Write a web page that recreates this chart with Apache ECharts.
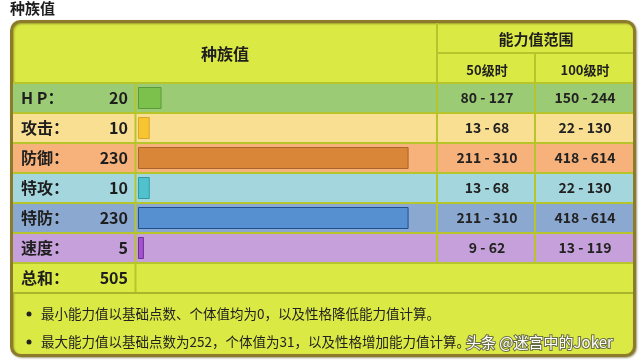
<!DOCTYPE html>
<html>
<head>
<meta charset="utf-8">
<script src="https://cdn.jsdelivr.net/npm/echarts@6/dist/echarts.min.js"></script>
<style>
  html, body { margin: 0; padding: 0; background: #fff; }
  #chart { width: 640px; height: 364px; }
</style>
</head>
<body>
<div id="chart"></div>
<script>
// data
const statNames = ['H P：', '攻击：', '防御：', '特攻：', '特防：', '速度：', '总和：'];
const baseStats = [20, 10, 230, 10, 230, 5];
const statTotal = 505;
const range50 = ['80 - 127', '13 - 68', '211 - 310', '13 - 68', '211 - 310', '9 - 62'];
const range100 = ['150 - 244', '22 - 130', '418 - 614', '22 - 130', '418 - 614', '13 - 119'];
const statMax = 255;
const pageTitle = '种族值';
const headMain = '种族值';
const headRange = '能力值范围';
const headLv50 = '50级时';
const headLv100 = '100级时';
const notes = [
  '最小能力值以基础点数、个体值均为0，以及性格降低能力值计算。',
  '最大能力值以基础点数为252，个体值为31，以及性格增加能力值计算。'
];
const watermark = '头条 @迷宫中的Joker';

// styles
const rowColors = ['#9bcb74', '#f9df92', '#f6b27a', '#a4d7dd', '#8ba8d0', '#c6a0da', '#dbe944'];
const barColors = ['#7cc14c', '#f7c531', '#da8638', '#50c1cd', '#5690d1', '#a452d2'];
const barBorders = ['#5b9a3a', '#d9a62b', '#a9652b', '#2e9aa6', '#1f4e8e', '#6b2f91'];
const FONT = '"Noto Sans CJK SC", "Noto Sans", sans-serif';
const lineColor = '#b7c52c';

const chart = echarts.init(document.getElementById('chart'));

function renderRow(params, api) {
  const i = api.value(1);
  const c = api.coord([0, i]);
  const h = api.size([0, 1])[1];
  const top = c[1] - h / 2;
  const kids = [
    { type: 'rect', shape: { x: 13, y: top, width: 620, height: h }, style: { fill: rowColors[i] } },
    { type: 'line', shape: { x1: 13, y1: top, x2: 633, y2: top }, style: { stroke: lineColor, lineWidth: 2 } },
    { type: 'line', shape: { x1: 135.5, y1: top, x2: 135.5, y2: top + h }, style: { stroke: lineColor, lineWidth: 2 } },
    { type: 'text', style: { text: statNames[i], x: 21, y: c[1], verticalAlign: 'middle', font: 'bold 16px ' + FONT, fill: '#1e1e1e' } },
    { type: 'text', style: { text: String(i < baseStats.length ? baseStats[i] : statTotal), x: 128, y: c[1], align: 'right', verticalAlign: 'middle', font: 'bold 16px ' + FONT, fill: '#1e1e1e' } }
  ];
  if (i < range50.length) {
    kids.push({ type: 'line', shape: { x1: 437, y1: top, x2: 437, y2: top + h }, style: { stroke: lineColor, lineWidth: 2 } });
    kids.push({ type: 'line', shape: { x1: 535, y1: top, x2: 535, y2: top + h }, style: { stroke: lineColor, lineWidth: 2 } });
    kids.push({ type: 'text', style: { text: range50[i], x: 487, y: c[1], align: 'center', verticalAlign: 'middle', font: 'bold 14px ' + FONT, fill: '#222' } });
    kids.push({ type: 'text', style: { text: range100[i], x: 585, y: c[1], align: 'center', verticalAlign: 'middle', font: 'bold 14px ' + FONT, fill: '#222' } });
  } else {
    kids.push({ type: 'line', shape: { x1: 13, y1: top + h, x2: 633, y2: top + h }, style: { stroke: '#a9b62a', lineWidth: 2 } });
  }
  return { type: 'group', children: kids };
}

const option = {
  animation: false,
  grid: { left: 138, width: 300, top: 83, height: 210 },
  xAxis: { type: 'value', min: 0, max: statMax, show: false },
  yAxis: { type: 'category', data: statNames, inverse: true, show: false },
  graphic: [
    { type: 'text', z: 0, style: { text: pageTitle, x: 10, y: 8, verticalAlign: 'middle', font: 'bold 15px ' + FONT, fill: '#1e1e1e' } },
    { type: 'rect', z: 0, shape: { x: 11.5, y: 21.5, width: 623, height: 334, r: 9 }, style: { fill: '#dbe944', stroke: '#8b7b2b', lineWidth: 3, shadowColor: 'rgba(90,80,20,0.5)', shadowBlur: 2, shadowOffsetX: 1, shadowOffsetY: 1 } },
    { type: 'text', z: 0, style: { text: headMain, x: 225, y: 54, align: 'center', verticalAlign: 'middle', font: 'bold 16px ' + FONT, fill: '#1e1e1e' } },
    { type: 'text', z: 0, style: { text: headRange, x: 536, y: 39, align: 'center', verticalAlign: 'middle', font: 'bold 15px ' + FONT, fill: '#1e1e1e' } },
    { type: 'text', z: 0, style: { text: headLv50, x: 487, y: 70, align: 'center', verticalAlign: 'middle', font: 'bold 13px ' + FONT, fill: '#1e1e1e' } },
    { type: 'text', z: 0, style: { text: headLv100, x: 585, y: 70, align: 'center', verticalAlign: 'middle', font: 'bold 13px ' + FONT, fill: '#1e1e1e' } },
    { type: 'line', z: 0, shape: { x1: 437, y1: 53, x2: 633, y2: 53 }, style: { stroke: lineColor, lineWidth: 2 } },
    { type: 'line', z: 0, shape: { x1: 437, y1: 23, x2: 437, y2: 83 }, style: { stroke: lineColor, lineWidth: 2 } },
    { type: 'line', z: 0, shape: { x1: 535, y1: 53, x2: 535, y2: 83 }, style: { stroke: lineColor, lineWidth: 2 } },
    { type: 'circle', z: 20, shape: { cx: 29, cy: 314, r: 2.5 }, style: { fill: '#222' } },
    { type: 'circle', z: 20, shape: { cx: 29, cy: 342, r: 2.5 }, style: { fill: '#222' } },
    { type: 'text', z: 20, style: { text: notes[0], x: 41, y: 314, verticalAlign: 'middle', font: '13.5px ' + FONT, fill: '#222' } },
    { type: 'text', z: 20, style: { text: notes[1], x: 41, y: 342, verticalAlign: 'middle', font: '13.5px ' + FONT, fill: '#222' } },
    { type: 'text', z: 30, style: { text: watermark, x: 466, y: 342, verticalAlign: 'middle', font: '15px ' + FONT, fill: '#fff', stroke: 'rgba(70,70,70,0.75)', lineWidth: 2 } }
  ],
  series: [
    {
      type: 'custom',
      z: 1,
      clip: false,
      renderItem: renderRow,
      encode: { x: 0, y: 1 },
      data: statNames.map((n, i) => [0, i])
    },
    {
      type: 'bar',
      z: 5,
      barWidth: 22,
      data: statNames.map((n, i) => i < baseStats.length ? {
        value: baseStats[i],
        itemStyle: { color: barColors[i], borderColor: barBorders[i], borderWidth: 1 }
      } : null)
    }
  ]
};

chart.setOption(option);
</script>
</body>
</html>
